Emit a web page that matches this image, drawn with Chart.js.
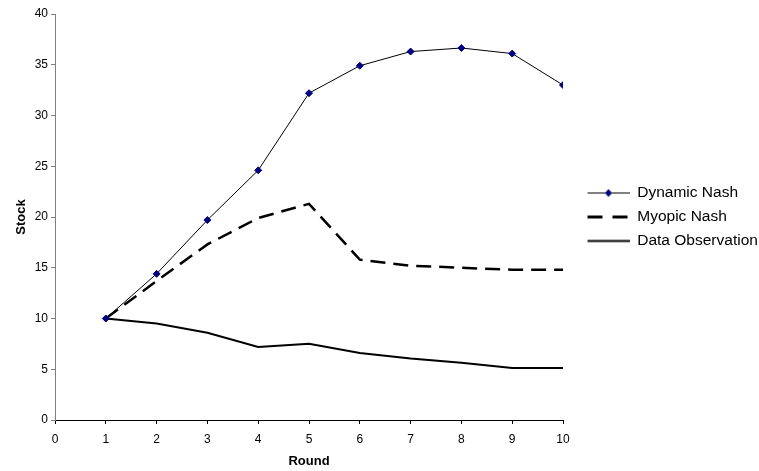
<!DOCTYPE html>
<html>
<head>
<meta charset="utf-8">
<script src="https://cdn.jsdelivr.net/npm/chart.js@4"></script>
<style>
  html, body { margin: 0; padding: 0; background: #fff; }
  #wrap { width: 759px; height: 471px; }
</style>
</head>
<body>
<div id="wrap"><canvas id="c" width="759" height="471"></canvas></div>
<script>
const rounds = [1, 2, 3, 4, 5, 6, 7, 8, 9, 10];
const dynamicNash = [10, 14.4, 19.7, 24.6, 32.2, 34.9, 36.3, 36.65, 36.1, 33.0];
const myopicNash = [10, 13.7, 17.3, 19.9, 21.3, 15.8, 15.2, 15.0, 14.8, 14.8];
const dataObservation = [10, 9.5, 8.6, 7.2, 7.5, 6.6, 6.05, 5.65, 5.12, 5.12];
const seriesNames = ['Dynamic Nash', 'Myopic Nash', 'Data Observation'];
const xTitle = 'Round';
const yTitle = 'Stock';

const FONT = "Arial, 'Liberation Sans', Helvetica, sans-serif";
const LEGEND_WIDTH = 196;

function pts(vals) { return rounds.map((r, i) => ({ x: r, y: vals[i] })); }

// legend sample images (line sample with leading gap)
function legendImg(kind) {
  const c = document.createElement('canvas');
  c.width = 58; c.height = 13;
  const g = c.getContext('2d');
  g.strokeStyle = '#000';
  if (kind === 0) {
    g.lineWidth = 1;
    g.beginPath(); g.moveTo(16, 6.5); g.lineTo(58, 6.5); g.stroke();
    g.fillStyle = '#000080';
    g.beginPath(); g.moveTo(37, 2.5); g.lineTo(40.5, 6.5); g.lineTo(37, 10.5); g.lineTo(33.5, 6.5); g.closePath(); g.fill();
  } else if (kind === 1) {
    g.lineWidth = 3;
    g.setLineDash([15, 10]);
    g.beginPath(); g.moveTo(16, 6.5); g.lineTo(58, 6.5); g.stroke();
  } else {
    g.lineWidth = 2;
    g.beginPath(); g.moveTo(16, 6.5); g.lineTo(58, 6.5); g.stroke();
  }
  return c;
}
const legendImgs = [legendImg(0), legendImg(1), legendImg(2)];

const legendWidthPlugin = {
  id: 'legendWidth',
  beforeLayout(chart) {
    const lg = chart.legend;
    if (lg && !lg._wPatched) {
      const orig = lg.fit.bind(lg);
      lg.fit = function () { orig(); this.width = LEGEND_WIDTH; };
      lg._wPatched = true;
    }
  }
};

new Chart(document.getElementById('c'), {
  type: 'line',
  plugins: [legendWidthPlugin],
  data: {
    datasets: [
      {
        label: seriesNames[0], data: pts(dynamicNash),
        borderColor: '#000', borderWidth: 1,
        pointStyle: 'rectRot', pointRadius: 3.5, pointBackgroundColor: '#000080', pointBorderColor: '#000080', pointBorderWidth: 1,
        tension: 0, fill: false
      },
      {
        label: seriesNames[1], data: pts(myopicNash),
        borderColor: '#000', borderWidth: 2.5, borderDash: [15, 8],
        pointRadius: 0, tension: 0, fill: false
      },
      {
        label: seriesNames[2], data: pts(dataObservation),
        borderColor: '#000', borderWidth: 2,
        pointRadius: 0, tension: 0, fill: false
      }
    ]
  },
  options: {
    responsive: false,
    animation: false,
    devicePixelRatio: 1,
    layout: { padding: { left: 14, top: 14, bottom: 2, right: 0 } },
    plugins: {
      tooltip: { enabled: false },
      legend: {
        position: 'right',
        fullSize: false,
        labels: {
          usePointStyle: true,
          pointStyleWidth: 58,
          padding: 8.5,
          color: '#000',
          font: { family: FONT, size: 15.5 },
          generateLabels(chart) {
            const items = Chart.defaults.plugins.legend.labels.generateLabels(chart);
            items.forEach((it, i) => { it.pointStyle = legendImgs[i]; });
            return items;
          }
        }
      }
    },
    scales: {
      x: {
        type: 'linear', min: 0, max: 10,
        ticks: { stepSize: 1, color: '#000', font: { family: FONT, size: 12 }, padding: 8, maxRotation: 0 },
        grid: { drawOnChartArea: false, drawTicks: true, tickLength: 4, color: '#000', tickColor: '#000' },
        border: { display: true, color: '#000', width: 1 },
        title: { display: true, text: xTitle, color: '#000', font: { family: FONT, size: 13, weight: 'bold' }, padding: 0 },
        afterFit(scale) { scale.height = 49; }
      },
      y: {
        type: 'linear', min: 0, max: 40,
        ticks: { stepSize: 5, color: '#000', font: { family: FONT, size: 12 }, padding: 3 },
        grid: { drawOnChartArea: false, drawTicks: true, tickLength: 4, color: '#808080', tickColor: '#808080' },
        border: { display: true, color: '#808080', width: 1 },
        title: { display: true, text: yTitle, color: '#000', font: { family: FONT, size: 13, weight: 'bold' }, padding: 0 },
        afterFit(scale) { scale.width = 41; }
      }
    }
  }
});
</script>
</body>
</html>
